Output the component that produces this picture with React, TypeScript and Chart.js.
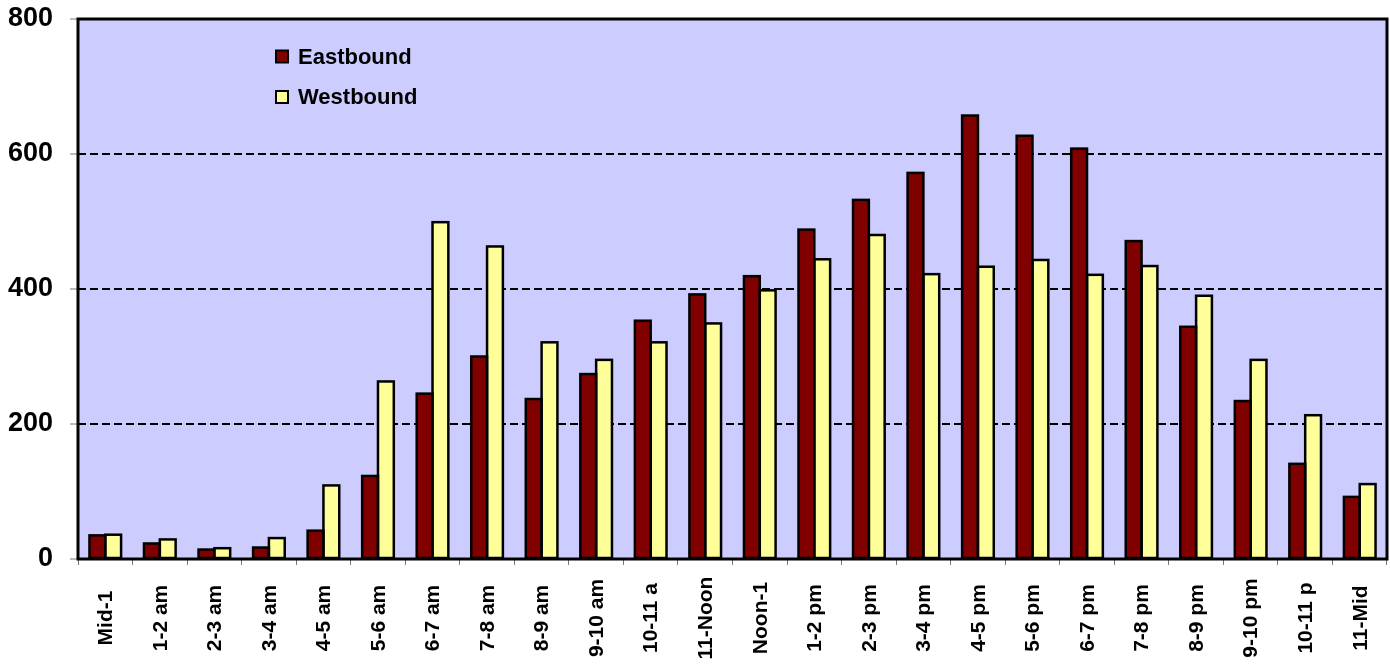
import React, { useEffect, useRef } from "react";
import { Chart, registerables } from "chart.js";

Chart.register(...registerables);

const categories = [
  "Mid-1", "1-2 am", "2-3 am", "3-4 am", "4-5 am", "5-6 am", "6-7 am", "7-8 am",
  "8-9 am", "9-10 am", "10-11 a", "11-Noon", "Noon-1", "1-2 pm", "2-3 pm", "3-4 pm",
  "4-5 pm", "5-6 pm", "6-7 pm", "7-8 pm", "8-9 pm", "9-10 pm", "10-11 p", "11-Mid",
];

const eastbound = [35, 23, 14, 17, 42, 123, 245, 300, 237, 274, 353, 392, 419, 488, 532, 572, 657, 627, 608, 471, 344, 234, 141, 92];
const westbound = [36, 29, 16, 31, 109, 263, 499, 463, 321, 295, 321, 349, 398, 444, 480, 422, 433, 443, 421, 434, 390, 295, 213, 111];

const seriesNames = ["Eastbound", "Westbound"];
const seriesColors = ["#800000", "#FFFF99"];
const yTicks = [0, 200, 400, 600, 800];

const FONT = "'Liberation Sans', Arial, Helvetica, sans-serif";

const plotBgPlugin = {
  id: "plotBg",
  beforeDraw(chart: any) {
    const { ctx, chartArea } = chart;
    ctx.save();
    ctx.fillStyle = "#CCCCFF";
    ctx.fillRect(chartArea.left, chartArea.top, chartArea.right - chartArea.left, chartArea.bottom - chartArea.top);
    ctx.restore();
  },
  afterDatasetsDraw(chart: any) {
    const { ctx, chartArea } = chart;
    ctx.save();
    // bar outlines, centred on the bar edges (as in the original)
    ctx.strokeStyle = "#000";
    ctx.lineWidth = 2.5;
    chart.data.datasets.forEach((_: any, di: number) => {
      const meta = chart.getDatasetMeta(di);
      meta.data.forEach((bar: any) => {
        const { x, y, base, width } = bar.getProps(["x", "y", "base", "width"], true);
        ctx.strokeRect(x - width / 2, y, width, base - y);
      });
    });
    ctx.lineWidth = 3;
    ctx.strokeRect(chartArea.left, chartArea.top, chartArea.right - chartArea.left, chartArea.bottom - chartArea.top);
    ctx.restore();
  },
};

const xLabelPlugin = {
  id: "xLabels",
  afterDraw(chart: any) {
    const { ctx } = chart;
    const xs = chart.scales.x;
    ctx.save();
    ctx.fillStyle = "#000";
    ctx.font = `bold 21px ${FONT}`;
    ctx.textAlign = "center";
    ctx.textBaseline = "middle";
    categories.forEach((lab, i) => {
      const x = xs.getPixelForValue(i);
      ctx.save();
      ctx.translate(x + 1, 618);
      ctx.rotate(-Math.PI / 2);
      ctx.fillText(lab, 0, 0);
      ctx.restore();
    });
    ctx.restore();
  },
};

const legendPlugin = {
  id: "customLegend",
  afterDraw(chart: any) {
    const { ctx } = chart;
    ctx.save();
    ctx.font = `bold 22px ${FONT}`;
    ctx.textAlign = "left";
    ctx.textBaseline = "middle";
    const rows = [56.5, 97];
    seriesNames.forEach((name, i) => {
      const cy = rows[i];
      ctx.fillStyle = seriesColors[i];
      ctx.fillRect(276, cy - 6, 12, 12);
      ctx.strokeStyle = "#000";
      ctx.lineWidth = 2;
      ctx.strokeRect(276, cy - 6, 12, 12);
      ctx.fillStyle = "#000";
      ctx.fillText(name, 298, cy + 1);
    });
    ctx.restore();
  },
};

export default function App() {
  const ref = useRef<HTMLCanvasElement | null>(null);

  useEffect(() => {
    document.body.style.margin = "0";
    if (!ref.current) return;
    const chart = new Chart(ref.current, {
      type: "bar",
      data: {
        labels: categories,
        datasets: [
          {
            label: seriesNames[0],
            data: eastbound,
            backgroundColor: seriesColors[0],
            borderWidth: 0,
            categoryPercentage: 0.58,
            barPercentage: 1,
          },
          {
            label: seriesNames[1],
            data: westbound,
            backgroundColor: seriesColors[1],
            borderWidth: 0,
            categoryPercentage: 0.58,
            barPercentage: 1,
          },
        ],
      },
      options: {
        responsive: false,
        animation: false,
        devicePixelRatio: 1,
        layout: { padding: { top: 19, right: 3, left: 0, bottom: 0 } },
        plugins: {
          legend: { display: false },
          tooltip: { enabled: false },
          title: { display: false },
        },
        scales: {
          x: {
            offset: true,
            grid: {
              offset: true,
              drawOnChartArea: false,
              drawTicks: true,
              tickLength: 6,
              tickColor: "#777",
              tickWidth: 1,
            },
            border: { display: false },
            ticks: { display: false },
            afterFit(scale: any) {
              scale.height = 107;
              scale.paddingLeft = 0;
              scale.paddingRight = 0;
            },
          },
          y: {
            min: 0,
            max: 800,
            afterBuildTicks(scale: any) {
              scale.ticks = yTicks.map((v) => ({ value: v }));
            },
            grid: {
              color: "#000",
              lineWidth: 2,
              drawTicks: true,
              tickLength: 8,
              tickColor: "#777",
              tickWidth: 1,
              tickBorderDash: [],
            },
            border: { display: false, dash: [8, 4] },
            ticks: {
              color: "#000",
              padding: 17,
              font: { family: FONT, size: 27, weight: "bold" },
            },
            afterFit(scale: any) {
              scale.width = 78;
              scale.paddingTop = 0;
              scale.paddingBottom = 0;
            },
          },
        },
      },
      plugins: [plotBgPlugin, xLabelPlugin, legendPlugin],
    } as any);
    return () => chart.destroy();
  }, []);

  return (
    <div style={{ width: 1390, height: 666 }}>
      <canvas ref={ref} width={1390} height={666} style={{ display: "block" }} />
    </div>
  );
}
